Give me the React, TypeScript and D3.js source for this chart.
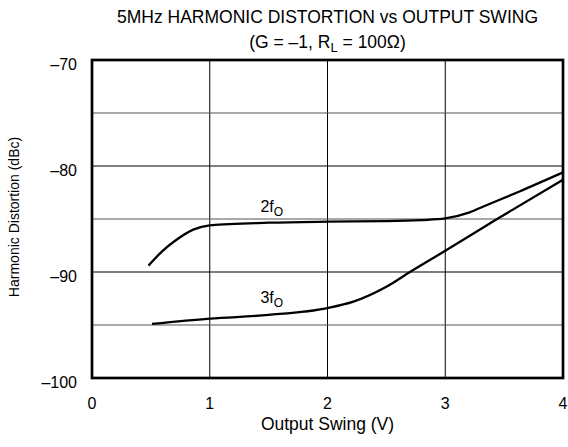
import * as d3 from "d3";
import { useEffect, useRef } from "react";

// output swing (V) and harmonic distortion (dBc)
const SWING_2F = [0.48, 0.6, 0.7, 0.86, 1.0, 1.5, 2.0, 2.5, 2.8, 3.0, 3.2, 3.35, 3.63, 4.0];
const HD_2F = [-89.4, -88.0, -87.1, -86.0, -85.6, -85.35, -85.25, -85.2, -85.1, -84.95, -84.4, -83.7, -82.4, -80.6];

const SWING_3F = [0.51, 1.0, 1.5, 2.0, 2.22, 2.5, 2.7, 3.0, 3.44, 4.0];
const HD_3F = [-94.9, -94.4, -94.05, -93.4, -92.8, -91.4, -90.0, -88.0, -85.0, -81.3];

const X_TICKS = [0, 1, 2, 3, 4];
const Y_TICKS = [-100, -90, -80, -70];
const Y_MINOR = [-95, -85, -75];

const FONT = "'Liberation Sans', Arial, Helvetica, sans-serif";
const W = 568;
const H = 447;

const drawChart = (svgElement: SVGSVGElement) => {
  const svg = d3.select(svgElement);
  svg.selectAll("*").remove();

  const margin = { top: 60, right: 5, bottom: 69, left: 92 };
  const x = d3.scaleLinear().domain([0, 4]).range([margin.left, W - margin.right]);
  const y = d3.scaleLinear().domain([-100, -70]).range([H - margin.bottom, margin.top]);
  const [x0, x1] = x.range();
  const [y0, y1] = y.range();

  svg.append("rect").attr("width", W).attr("height", H).attr("fill", "white");

  const grid = svg.append("g");
  grid
    .selectAll("line.v")
    .data(X_TICKS.slice(1, -1))
    .join("line")
    .attr("x1", (d) => x(d))
    .attr("x2", (d) => x(d))
    .attr("y1", y1)
    .attr("y2", y0)
    .attr("stroke", "#000")
    .attr("stroke-width", 1);

  grid
    .selectAll("line.h")
    .data([...Y_TICKS.slice(1, -1), ...Y_MINOR])
    .join("line")
    .attr("x1", x0)
    .attr("x2", x1)
    .attr("y1", (d) => y(d))
    .attr("y2", (d) => y(d))
    .attr("stroke", (d) => (Y_MINOR.includes(d) ? "#555" : "#000"))
    .attr("stroke-width", 1.2);

  const line = d3
    .line<[number, number]>()
    .x((d) => x(d[0]))
    .y((d) => y(d[1]))
    .curve(d3.curveMonotoneX);

  const series = [
    SWING_2F.map((v, i) => [v, HD_2F[i]] as [number, number]),
    SWING_3F.map((v, i) => [v, HD_3F[i]] as [number, number]),
  ];

  svg
    .append("g")
    .selectAll("path")
    .data(series)
    .join("path")
    .attr("d", (d) => line(d))
    .attr("fill", "none")
    .attr("stroke", "#000")
    .attr("stroke-width", 2.3);

  svg
    .append("rect")
    .attr("x", x0)
    .attr("y", y1)
    .attr("width", x1 - x0)
    .attr("height", y0 - y1)
    .attr("fill", "none")
    .attr("stroke", "#000")
    .attr("stroke-width", 2.7);

  const text = svg.append("g").style("font-family", FONT).attr("fill", "#000");

  text
    .selectAll("text.ytick")
    .data(Y_TICKS)
    .join("text")
    .attr("x", x0 - 15)
    .attr("y", (d) => y(d) + 10)
    .attr("text-anchor", "end")
    .style("font-size", "16px")
    .text((d) => `\u2013${Math.abs(d)}`);

  text
    .selectAll("text.xtick")
    .data(X_TICKS)
    .join("text")
    .attr("x", (d) => x(d))
    .attr("y", y0 + 31)
    .attr("text-anchor", "middle")
    .style("font-size", "16px")
    .text((d) => String(d));

  text
    .append("text")
    .attr("x", (x0 + x1) / 2)
    .attr("y", 429.5)
    .attr("text-anchor", "middle")
    .style("font-size", "17.5px")
    .text("Output Swing (V)");

  text
    .append("text")
    .attr("transform", `translate(19,${(y0 + y1) / 2 - 2}) rotate(-90)`)
    .attr("text-anchor", "middle")
    .style("font-size", "14px")
    .text("Harmonic Distortion (dBc)");

  text
    .append("text")
    .attr("x", (x0 + x1) / 2)
    .attr("y", 23)
    .attr("text-anchor", "middle")
    .style("font-size", "17.5px")
    .text("5MHz HARMONIC DISTORTION vs OUTPUT SWING");

  const sub = text
    .append("text")
    .attr("x", (x0 + x1) / 2)
    .attr("y", 47.5)
    .attr("text-anchor", "middle")
    .style("font-size", "17.5px");
  sub.append("tspan").text("(G = \u20131, R");
  sub.append("tspan").attr("dy", 4.5).style("font-size", "13px").text("L");
  sub.append("tspan").attr("dy", -4.5).text(" = 100\u03A9)");

  const labels = [
    { text: "2f", sx: 1.43, sy: -84.3 },
    { text: "3f", sx: 1.43, sy: -92.9 },
  ];
  labels.forEach((l) => {
    const t = text
      .append("text")
      .attr("x", x(l.sx))
      .attr("y", y(l.sy))
      .style("font-size", "16px");
    t.append("tspan").text(l.text);
    t.append("tspan").attr("dy", 4).style("font-size", "12px").text("O");
  });
};

const App = () => {
  const svgRef = useRef<SVGSVGElement | null>(null);

  useEffect(() => {
    if (svgRef.current) drawChart(svgRef.current);
  }, []);

  return (
    <svg
      ref={svgRef}
      width={W}
      height={H}
      style={{ position: "absolute", left: 0, top: 0 }}
    />
  );
};

export default App;
